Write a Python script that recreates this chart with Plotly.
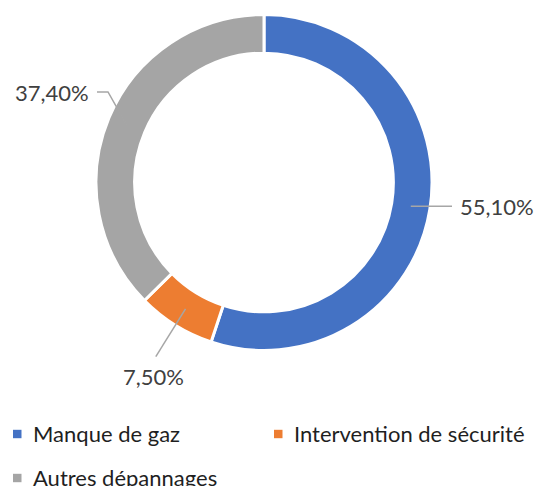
import math
import plotly.graph_objects as go

# Répartition des interventions
categories = ["Manque de gaz", "Intervention de sécurité", "Autres dépannages"]
values = [55.1, 7.5, 37.4]
value_labels = ["55,10%", "7,50%", "37,40%"]
colors = ["#4472C4", "#ED7D31", "#A5A5A5"]

W, H = 535, 486
CX, CY, R = 264.0, 182.5, 168.0
HOLE = 0.77


def px_x(x):
    return x / W


def px_y(y):
    return 1 - y / H


fig = go.Figure(
    go.Pie(
        labels=categories,
        values=values,
        hole=HOLE,
        sort=False,
        direction="clockwise",
        rotation=0,
        textinfo="none",
        hoverinfo="label+percent",
        marker=dict(colors=colors, line=dict(color="white", width=3)),
        domain=dict(x=[px_x(CX - R), px_x(CX + R)],
                    y=[px_y(CY + R), px_y(CY - R)]),
        showlegend=False,
    )
)

# Mid-angle of every slice (clockwise from 12 o'clock), anchor in the ring
total = sum(values)
mid_r = R * (1 + HOLE) / 2
anchors = []
acc = 0.0
for v in values:
    a = math.radians((acc + v / 2) / total * 360)
    anchors.append((CX + mid_r * math.sin(a), CY - mid_r * math.cos(a), a))
    acc += v

line_style = dict(color="#A6A6A6", width=1.5)
label_font = dict(family="Lato", size=22, color="#404040")

# Manque de gaz: horizontal leader to the right
ax, ay, _ = anchors[0]
end_x = CX + R + 20
fig.add_shape(type="line", xref="paper", yref="paper",
              x0=px_x(ax), y0=px_y(ay), x1=px_x(end_x), y1=px_y(ay), line=line_style)
fig.add_annotation(x=px_x(end_x + 6), y=px_y(ay), xref="paper", yref="paper",
                   text=value_labels[0], showarrow=False, xanchor="left",
                   yanchor="middle", font=label_font)

# Intervention de sécurité: radial leader downwards
ax, ay, a = anchors[1]
ex, ey = CX + 205 * math.sin(a), CY - 205 * math.cos(a)
fig.add_shape(type="line", xref="paper", yref="paper",
              x0=px_x(ax), y0=px_y(ay), x1=px_x(ex), y1=px_y(ey), line=line_style)
fig.add_annotation(x=px_x(ex - 2), y=px_y(ey + 20), xref="paper", yref="paper",
                   text=value_labels[1], showarrow=False, xanchor="center",
                   yanchor="middle", font=label_font)

# Autres dépannages: elbow leader to the upper left
ax, ay, a = anchors[2]
kx, ky = 108, 92
fig.add_shape(type="path", xref="paper", yref="paper",
              path=f"M {px_x(ax)},{px_y(ay)} L {px_x(kx)},{px_y(ky)} L {px_x(kx - 11)},{px_y(ky)}",
              line=line_style)
fig.add_annotation(x=px_x(kx - 17), y=px_y(ky), xref="paper", yref="paper",
                   text=value_labels[2], showarrow=False, xanchor="right",
                   yanchor="middle", font=label_font)

# Legend: square swatch + name, two columns
legend_font = dict(family="Lato", size=22, color="#1F1F1F")
legend_pos = [(13, 434), (274, 434), (13, 478)]
for name, col, (lx, ly) in zip(categories, colors, legend_pos):
    fig.add_shape(type="rect", xref="paper", yref="paper",
                  x0=px_x(lx), x1=px_x(lx + 8.5), y0=px_y(ly - 4.2), y1=px_y(ly + 4.2),
                  fillcolor=col, line=dict(width=0))
    fig.add_annotation(x=px_x(lx + 18), y=px_y(ly - 1), xref="paper", yref="paper",
                       text=name, showarrow=False, xanchor="left", yanchor="middle",
                       font=legend_font)

fig.update_layout(
    width=W, height=H,
    margin=dict(l=0, r=0, t=0, b=0),
    paper_bgcolor="white",
    plot_bgcolor="white",
)

fig.write_html("out.html")
